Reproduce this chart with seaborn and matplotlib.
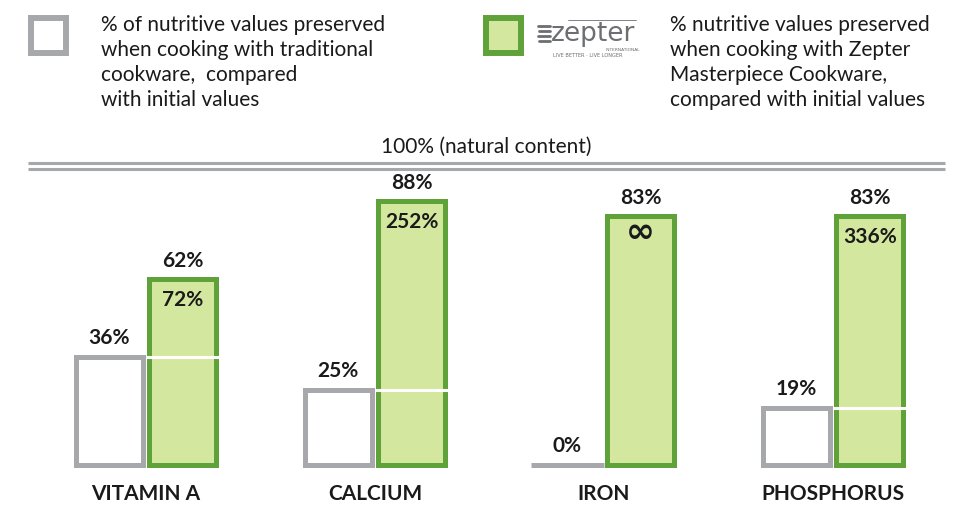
import pandas as pd
import seaborn as sns
import matplotlib.pyplot as plt
from matplotlib.patches import Rectangle
from matplotlib.lines import Line2D

# Data
NUTRIENTS = ["VITAMIN A", "CALCIUM", "IRON", "PHOSPHORUS"]
SERIES = ["traditional", "zepter"]
TRADITIONAL = [36, 25, 0, 19]
ZEPTER = [62, 88, 83, 83]
ZEPTER_GAIN = ["72%", "252%", "\u221e", "336%"]

LEGEND_TRADITIONAL = ("% of nutritive values preserved\nwhen cooking with traditional\n"
                      "cookware,  compared\nwith initial values")
LEGEND_ZEPTER = ("% nutritive values preserved\nwhen cooking with Zepter\n"
                 "Masterpiece Cookware,\ncompared with initial values")
TITLE = "100% (natural content)"

GREY = "#a7a8ab"
GREEN = "#5fa23a"
LIGHT_GREEN = "#d4e79e"
TEXT = "#1a1a1a"

W, H = 974, 512


def fx(px):
    return px / W


def fy(py):
    return 1 - py / H


df = pd.DataFrame({
    "nutrient": NUTRIENTS * 2,
    "value": TRADITIONAL + ZEPTER,
    "cookware": [SERIES[0]] * len(NUTRIENTS) + [SERIES[1]] * len(NUTRIENTS),
})

sns.set_style("white")
plt.rcParams["font.family"] = ["Lato", "DejaVu Sans"]

fig = plt.figure(figsize=(W / 100, H / 100), dpi=100)
ax = fig.add_axes([0, 0, 1, 1])

sns.barplot(data=df, x="nutrient", y="value", hue="cookware",
            order=NUTRIENTS, hue_order=SERIES,
            palette={"traditional": "white", "zepter": LIGHT_GREEN},
            saturation=1, width=0.64, gap=0.08, linewidth=3.6,
            errorbar=None, legend=False, ax=ax)

for cont, edge in zip(ax.containers, [GREY, GREEN]):
    for p in cont:
        p.set_edgecolor(edge)
        p.set_joinstyle("miter")

# pixel-like scale: baseline at y=465px, 3px per percent
ax.set_xlim(-146 / 229, (W - 146) / 229)
ax.set_ylim(-(H - 465) / 3, 465 / 3)
ax.axis("off")

pad = 2.5 / 229
# zero-valued traditional bar is shown as a flat grey stroke
for p, t in zip(ax.containers[0], TRADITIONAL):
    if t == 0:
        ax.hlines(0, p.get_x() - pad, p.get_x() + p.get_width() + pad, color=GREY, lw=3.6)
# white marker line inside green bars at the traditional level
for p, t in zip(ax.containers[1], TRADITIONAL):
    if t > 0:
        ax.hlines(t, p.get_x() - pad, p.get_x() + p.get_width() + pad,
                  color="white", lw=2.2, zorder=5)

lab_kw = dict(textcoords="offset points", ha="center", va="center",
              fontsize=15, fontweight="bold", color=TEXT)
for p, v in zip(ax.containers[0], TRADITIONAL):
    ax.annotate(f"{v}%", (p.get_x() + p.get_width() / 2, v), xytext=(0, 13.5), **lab_kw)
for p, v, g in zip(ax.containers[1], ZEPTER, ZEPTER_GAIN):
    cx = p.get_x() + p.get_width() / 2
    ax.annotate(f"{v}%", (cx, v), xytext=(0, 13), **lab_kw)
    if g == "\u221e":
        ax.annotate(g, (cx, v), xytext=(0, -11.5), textcoords="offset points",
                    ha="center", va="center", fontsize=25, fontweight="bold",
                    color=TEXT, family="DejaVu Sans")
    else:
        ax.annotate(g, (cx, v), xytext=(0, -15), **lab_kw)

for i, name in enumerate(NUTRIENTS):
    ax.text(i, -(494 - 465) / 3, name, ha="center", va="center",
            fontsize=15, fontweight="bold", color=TEXT)

# 100% double line
x_lo, x_hi = (28 - 146) / 229, (945 - 146) / 229
ax.hlines([100.7, 98.7], x_lo, x_hi, color=GREY, lw=2.2)
ax.text((x_lo + x_hi) / 2, (465 - 147) / 3, TITLE, ha="center", va="center",
        fontsize=15, color=TEXT)

# legend
fig.patches.append(Rectangle((fx(31), fy(53)), fx(35), 35 / H, transform=fig.transFigure,
                             facecolor="white", edgecolor=GREY, lw=4.3, joinstyle="miter"))
fig.patches.append(Rectangle((fx(486), fy(53)), fx(35), 35 / H, transform=fig.transFigure,
                             facecolor=LIGHT_GREEN, edgecolor=GREEN, lw=4.3, joinstyle="miter"))
fig.text(fx(101), fy(15), LEGEND_TRADITIONAL, ha="left", va="top",
         fontsize=15, color=TEXT, linespacing=1.32)
fig.text(fx(670), fy(15), LEGEND_ZEPTER, ha="left", va="top",
         fontsize=15, color=TEXT, linespacing=1.32)

# zepter logo
LOGO = "#6d6e71"
for k, yy in enumerate([26, 31, 36, 41]):
    fig.lines.append(Line2D([fx(538 + k % 2), fx(550)], [fy(yy), fy(yy)],
                            transform=fig.transFigure, color=LOGO, lw=2))
fig.lines.append(Line2D([fx(568), fx(636)], [fy(20), fy(20)],
                        transform=fig.transFigure, color=LOGO, lw=0.6))
fig.text(fx(551), fy(41), "zepter", ha="left", va="baseline",
         fontsize=19, color=LOGO, family="DejaVu Sans")
fig.text(fx(640), fy(50), "INTERNATIONAL", ha="right", va="center",
         fontsize=3.2, color=LOGO, family="DejaVu Sans")
fig.text(fx(588), fy(55.5), "LIVE BETTER \u00b7 LIVE LONGER", ha="center", va="center",
         fontsize=3.6, color=LOGO, family="DejaVu Sans")

fig.savefig("out.png", dpi=100, facecolor="white")
